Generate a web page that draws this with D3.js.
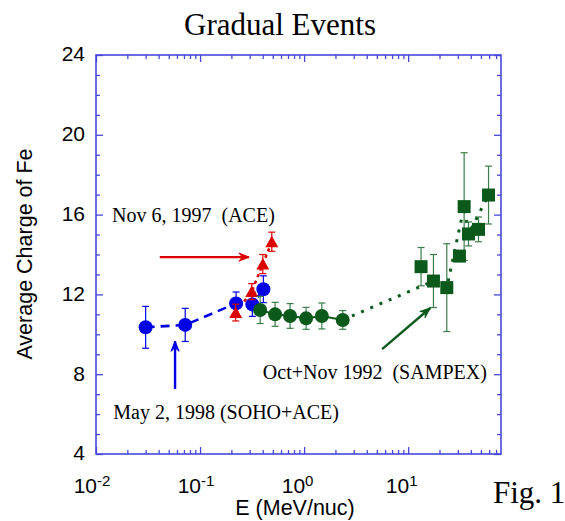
<!DOCTYPE html>
<html>
<head>
<meta charset="utf-8">
<script src="https://cdn.jsdelivr.net/npm/d3@7"></script>
<style>
  body { margin: 0; background: #fff; }
  text { white-space: pre; }
</style>
</head>
<body>
<svg id="chart" width="565" height="521"></svg>
<script>
// May 2, 1998 (SOHO+ACE)
const sohoE   = [0.030, 0.072, 0.222, 0.318, 0.406];
const sohoQ   = [10.35, 10.47, 11.55, 11.50, 12.26];
const sohoErr = [1.05, 0.83, 0.57, 0.60, 0.67];

// Nov 6, 1997 (ACE)
const aceE   = [0.220, 0.314, 0.401, 0.489];
const aceQ   = [11.09, 12.14, 13.52, 14.64];
const aceErr = [0.42, 0.40, 0.48, 0.48];

// Oct+Nov 1992 (SAMPEX), low energy circles
const sampexLowE   = [0.378, 0.526, 0.733, 1.045, 1.48, 2.35];
const sampexLowQ   = [11.22, 11.00, 10.92, 10.80, 10.92, 10.72];
const sampexLowErr = [0.68, 0.60, 0.62, 0.55, 0.65, 0.47];

// Oct+Nov 1992 (SAMPEX), high energy squares
const sampexHighE   = [13.3, 17.5, 23.5, 31.1, 34.5, 38.0, 47.4, 59.2];
const sampexHighQ   = [13.39, 12.67, 12.34, 13.92, 16.40, 15.03, 15.26, 16.98];
const sampexHighErr = [0.96, 1.33, 2.20, 0.25, 2.70, 0.60, 0.62, 1.45];

// dotted guide through the SAMPEX points
const trendE = [2.35, 17.5, 23.5, 34.5, 38.0, 59.2];
const trendQ = [10.72, 12.67, 12.34, 16.40, 15.03, 16.98];

const xMajorTicks = [0.01, 0.1, 1, 10];
const xTickExps   = ["-2", "-1", "0", "1"];
const yMajorTicks = [4, 8, 12, 16, 20, 24];

const blue = "#0000e6", red = "#dd0000", green = "#0b5a1c", axisColor = "#4646dc";

const svg = d3.select("#chart");

const x = d3.scaleLog().domain([0.01, 78]).range([96, 501]);
const y = d3.scaleLinear().domain([4, 24]).range([454, 55]);

const zip = (e, q, err) => e.map((d, i) => ({ e: d, q: q[i], err: err ? err[i] : 0 }));

// minor ticks: 2..9 per decade on x, every unit on y
const xMinor = [];
[0.01, 0.1, 1, 10].forEach(dec => {
    for (let k = 2; k <= 9; k++) {
        const v = dec * k;
        if (v <= 78) xMinor.push(v);
    }
});
const yMinor = d3.range(5, 24).filter(v => v % 4 !== 0);

function drawAxis(axis, transform) {
    const g = svg.append("g").attr("transform", transform).call(axis);
    g.select(".domain").remove();
    g.selectAll("line").attr("stroke", axisColor).attr("stroke-width", 1.3);
    g.selectAll("text").remove();
}

drawAxis(d3.axisBottom(x).tickValues(xMajorTicks).tickSize(-7), "translate(0,454)");
drawAxis(d3.axisBottom(x).tickValues(xMinor).tickSize(-4), "translate(0,454)");
drawAxis(d3.axisTop(x).tickValues(xMajorTicks).tickSize(-7), "translate(0,55)");
drawAxis(d3.axisTop(x).tickValues(xMinor).tickSize(-4), "translate(0,55)");
drawAxis(d3.axisLeft(y).tickValues(yMajorTicks).tickSize(-7), "translate(96,0)");
drawAxis(d3.axisLeft(y).tickValues(yMinor).tickSize(-4), "translate(96,0)");
drawAxis(d3.axisRight(y).tickValues(yMajorTicks).tickSize(-7), "translate(501,0)");
drawAxis(d3.axisRight(y).tickValues(yMinor).tickSize(-4), "translate(501,0)");

svg.append("rect")
    .attr("x", x.range()[0]).attr("y", y.range()[1])
    .attr("width", x.range()[1] - x.range()[0])
    .attr("height", y.range()[0] - y.range()[1])
    .attr("fill", "none").attr("stroke", axisColor).attr("stroke-width", 1.6);

// tick labels
const sans = "'Liberation Sans', Arial, Helvetica, sans-serif";
const serif = "'Liberation Serif', 'Times New Roman', serif";

xMajorTicks.forEach((t, i) => {
    svg.append("text").attr("x", x(t) + 1).attr("y", 493)
        .attr("text-anchor", "end").attr("font-family", sans).attr("font-size", 21)
        .text("10");
    svg.append("text").attr("x", x(t) + 1).attr("y", 486)
        .attr("font-family", sans).attr("font-size", 15)
        .text(xTickExps[i]);
});

svg.selectAll(".ylab").data(yMajorTicks).enter().append("text")
    .attr("x", 85).attr("y", d => y(d) - 1)
    .attr("dy", "0.35em")
    .attr("text-anchor", "end").attr("font-family", sans).attr("font-size", 21)
    .text(d => d);

svg.append("text")
    .attr("transform", "translate(24,254) rotate(-90)")
    .attr("dy", "0.35em")
    .attr("text-anchor", "middle").attr("font-family", sans).attr("font-size", 21.5)
    .text("Average Charge of Fe");

svg.append("text").attr("x", 295).attr("y", 515)
    .attr("text-anchor", "middle").attr("font-family", sans).attr("font-size", 21.5)
    .text("E (MeV/nuc)");

svg.append("text").attr("x", 280).attr("y", 35)
    .attr("text-anchor", "middle").attr("font-family", serif).attr("font-size", 31)
    .text("Gradual Events");

svg.append("text").attr("x", 493).attr("y", 503)
    .attr("font-family", serif).attr("font-size", 31)
    .text("Fig. 1");

// connecting lines
const line = d3.line().x(d => x(d.e)).y(d => y(d.q));

svg.append("path").datum(zip(sohoE, sohoQ))
    .attr("d", line).attr("fill", "none").attr("stroke", blue)
    .attr("stroke-width", 2.6).attr("stroke-dasharray", "9,6");
svg.append("path").datum(zip(aceE, aceQ))
    .attr("d", line).attr("fill", "none").attr("stroke", red)
    .attr("stroke-width", 2.6).attr("stroke-dasharray", "3,4");
svg.append("path").datum(zip(sampexLowE, sampexLowQ))
    .attr("d", line).attr("fill", "none").attr("stroke", green)
    .attr("stroke-width", 2);
svg.append("path").datum(zip(trendE, trendQ))
    .attr("d", line).attr("fill", "none").attr("stroke", green)
    .attr("stroke-width", 3).attr("stroke-dasharray", "3,7");

// error bars + markers
function errorBars(data, color) {
    const g = svg.append("g").attr("stroke", color).attr("stroke-width", 1.2);
    data.forEach(d => {
        const cx = x(d.e), y1 = y(d.q + d.err), y2 = y(d.q - d.err);
        g.append("line").attr("x1", cx).attr("x2", cx).attr("y1", y1).attr("y2", y2);
        g.append("line").attr("x1", cx - 3.5).attr("x2", cx + 3.5).attr("y1", y1).attr("y2", y1);
        g.append("line").attr("x1", cx - 3.5).attr("x2", cx + 3.5).attr("y1", y2).attr("y2", y2);
    });
}

const sohoData = zip(sohoE, sohoQ, sohoErr);
const aceData = zip(aceE, aceQ, aceErr);
const lowData = zip(sampexLowE, sampexLowQ, sampexLowErr);
const highData = zip(sampexHighE, sampexHighQ, sampexHighErr);

errorBars(sohoData, blue);
svg.selectAll(".soho").data(sohoData).enter().append("circle")
    .attr("cx", d => x(d.e)).attr("cy", d => y(d.q)).attr("r", 7).attr("fill", blue);

errorBars(aceData, red);
svg.selectAll(".ace").data(aceData).enter().append("path")
    .attr("transform", d => `translate(${x(d.e)},${y(d.q)})`)
    .attr("d", "M0,-6L6.5,5.5L-6.5,5.5Z").attr("fill", red);

errorBars(lowData, "#3a7d4a");
svg.selectAll(".low").data(lowData).enter().append("circle")
    .attr("cx", d => x(d.e)).attr("cy", d => y(d.q)).attr("r", 7).attr("fill", green);

errorBars(highData, "#3a7d4a");
svg.selectAll(".high").data(highData).enter().append("rect")
    .attr("x", d => x(d.e) - 6.5).attr("y", d => y(d.q) - 6.5)
    .attr("width", 13).attr("height", 13).attr("fill", green);

// annotations (arrows in data coordinates)
function arrow(e1, q1, e2, q2, color) {
    const x1 = x(e1), y1 = y(q1), x2 = x(e2), y2 = y(q2);
    const a = Math.atan2(y2 - y1, x2 - x1), len = 11, spread = 0.38;
    svg.append("line").attr("x1", x1).attr("y1", y1).attr("x2", x2).attr("y2", y2)
        .attr("stroke", color).attr("stroke-width", 2.4);
    svg.append("path")
        .attr("d", `M${x2 - len * Math.cos(a - spread)},${y2 - len * Math.sin(a - spread)}` +
                   `L${x2},${y2}L${x2 - len * Math.cos(a + spread)},${y2 - len * Math.sin(a + spread)}` +
                   `L${x2 - 0.6 * len * Math.cos(a)},${y2 - 0.6 * len * Math.sin(a)}Z`)
        .attr("fill", color).attr("stroke", color).attr("stroke-width", 1);
}

arrow(0.041, 13.87, 0.296, 13.87, red);
arrow(0.0575, 7.26, 0.0575, 9.66, blue);
arrow(5.62, 9.26, 16.3, 11.32, green);

function note(e, q, txt) {
    svg.append("text").attr("x", x(e)).attr("y", y(q))
        .attr("font-family", serif).attr("font-size", 20).text(txt);
}
note(0.01426, 15.64, "Nov 6, 1997  (ACE)");
note(0.01466, 5.74, "May 2, 1998 (SOHO+ACE)");
note(0.401, 7.74, "Oct+Nov 1992  (SAMPEX)");
</script>
</body>
</html>
